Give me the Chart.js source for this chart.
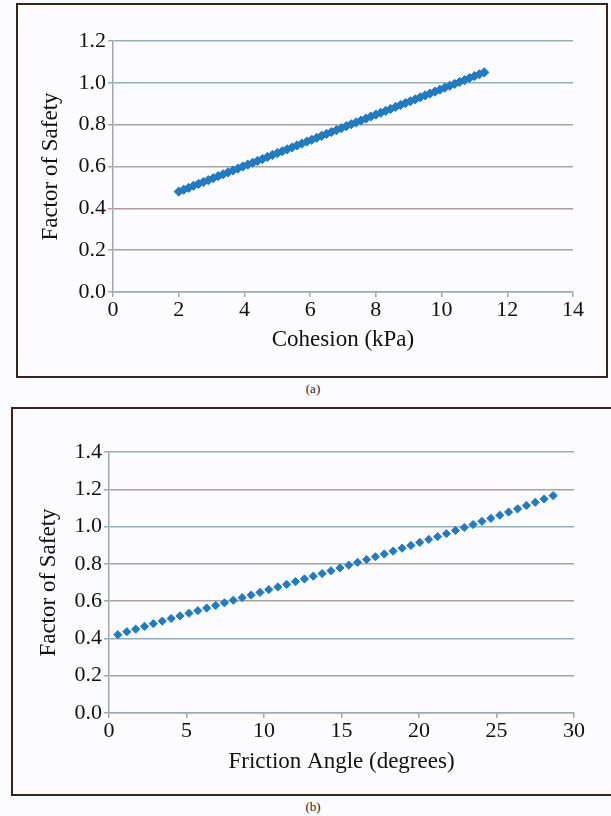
<!DOCTYPE html>
<html>
<head>
<meta charset="utf-8">
<script src="https://cdn.jsdelivr.net/npm/chart.js@4.4.1/dist/chart.umd.min.js"></script>
<style>
  html, body { margin: 0; padding: 0; background: #fbfbfd; width: 611px; height: 816px; overflow: hidden; }
  .box { position: absolute; border: 2px solid #35251d; background: #fcfcfe; box-sizing: border-box; }
  canvas { position: absolute; }
  .cap { position: absolute; font-family: 'Liberation Serif', serif; font-size: 13px; color: #222; width: 40px; text-align: center; }
</style>
</head>
<body>
<div class="box" style="left:16px; top:3px; width:592px; height:375px;"></div>
<canvas id="chartA" width="588" height="371" style="left:18px; top:5px;"></canvas>
<div class="cap" style="left:293px; top:381px;">(a)</div>

<div class="box" style="left:11px; top:407px; width:620px; height:389px;"></div>
<canvas id="chartB" width="598" height="386" style="left:13px; top:409px;"></canvas>
<div class="cap" style="left:293px; top:799px;">(b)</div>

<script>
// ---- Panel (a): Factor of Safety vs Cohesion ----
const cohesionX = [2.00, 2.15, 2.30, 2.45, 2.60, 2.75, 2.90, 3.05, 3.20, 3.35, 3.50, 3.65, 3.80, 3.95, 4.10, 4.25,
  4.40, 4.55, 4.70, 4.85, 5.00, 5.15, 5.30, 5.45, 5.60, 5.75, 5.90, 6.05, 6.20, 6.35, 6.50, 6.65,
  6.80, 6.95, 7.10, 7.25, 7.40, 7.55, 7.70, 7.85, 8.00, 8.15, 8.30, 8.45, 8.60, 8.75, 8.90, 9.05,
  9.20, 9.35, 9.50, 9.65, 9.80, 9.95, 10.10, 10.25, 10.40, 10.55, 10.70, 10.85, 11.00, 11.15, 11.30];
const cohesionFS = [0.480, 0.489, 0.498, 0.508, 0.517, 0.526, 0.535, 0.544, 0.554, 0.563, 0.572, 0.581, 0.590, 0.600, 0.609, 0.618,
  0.627, 0.636, 0.646, 0.655, 0.664, 0.673, 0.682, 0.691, 0.701, 0.710, 0.719, 0.728, 0.737, 0.747, 0.756, 0.765,
  0.774, 0.783, 0.793, 0.802, 0.811, 0.820, 0.829, 0.839, 0.848, 0.857, 0.866, 0.875, 0.885, 0.894, 0.903, 0.912,
  0.921, 0.931, 0.940, 0.949, 0.958, 0.967, 0.977, 0.986, 0.995, 1.004, 1.013, 1.023, 1.032, 1.041, 1.050];
const cohesionTicks = [0, 2, 4, 6, 8, 10, 12, 14];
const fsTicksA = [0, 0.2, 0.4, 0.6, 0.8, 1.0, 1.2];

// ---- Panel (b): Factor of Safety vs Friction Angle ----
const frictionX = [0.57, 1.15, 1.72, 2.29, 2.86, 3.44, 4.01, 4.58, 5.16, 5.73, 6.30, 6.88, 7.45, 8.02, 8.59, 9.17, 9.74,
  10.31, 10.89, 11.46, 12.03, 12.61, 13.18, 13.75, 14.32, 14.90, 15.47, 16.04, 16.62, 17.19, 17.76, 18.33, 18.91,
  19.48, 20.05, 20.63, 21.20, 21.77, 22.35, 22.92, 23.49, 24.06, 24.64, 25.21, 25.78, 26.36, 26.93, 27.50, 28.07, 28.65];
const frictionFS = [0.420, 0.436, 0.450, 0.465, 0.479, 0.493, 0.507, 0.521, 0.535, 0.549, 0.563, 0.577, 0.591, 0.605, 0.619, 0.633, 0.647,
  0.662, 0.676, 0.690, 0.705, 0.719, 0.734, 0.748, 0.763, 0.778, 0.793, 0.808, 0.823, 0.838, 0.853, 0.868, 0.884,
  0.899, 0.915, 0.931, 0.946, 0.962, 0.979, 0.995, 1.011, 1.028, 1.044, 1.061, 1.078, 1.095, 1.113, 1.130, 1.148, 1.166];
const frictionTicks = [0, 5, 10, 15, 20, 25, 30];
const fsTicksB = [0, 0.2, 0.4, 0.6, 0.8, 1.0, 1.2, 1.4];

// gridline tints per value (as seen in the scanned figure)
const gridTintA = { '0.2': '#a3a3a3', '0.4': '#b49c95', '0.6': '#a6a6a6', '0.8': '#a4a4a4', '1': '#8fb0b7', '1.2': '#8fb0b7' };
const gridTintB = { '0.2': '#a3a3a3', '0.4': '#91afb4', '0.6': '#ad9f99', '0.8': '#a4a4a4', '1': '#91afb4', '1.2': '#aca09c', '1.4': '#91afb4' };

const MARK = '#1f7cc2';
const AXIS = '#9eaab0';
const FONT = 'Liberation Serif';

function makeChart(id, xs, ys, xTicks, yTicks, xMax, yMax, xTitle, tint, dims) {
  const pts = xs.map((x, i) => ({ x: x, y: ys[i] }));
  return new Chart(document.getElementById(id), {
    type: 'scatter',
    data: { datasets: [{
      data: pts,
      pointStyle: 'rectRot',
      pointRadius: dims.r,
      pointBackgroundColor: MARK,
      pointBorderColor: MARK,
      pointBorderWidth: 1,
      showLine: false
    }]},
    options: {
      responsive: false,
      animation: false,
      devicePixelRatio: 1,
      layout: { padding: { left: 0, top: dims.top, right: dims.right, bottom: 0 } },
      plugins: { legend: { display: false }, tooltip: { enabled: false } },
      scales: {
        x: {
          type: 'linear', min: 0, max: xMax,
          afterBuildTicks: s => { s.ticks = xTicks.map(v => ({ value: v })); },
          afterFit: s => { s.height = dims.xh; },
          border: { display: true, color: AXIS, width: 1.5 },
          grid: { drawOnChartArea: false, drawTicks: true, tickLength: 5, color: AXIS, lineWidth: 1.5 },
          ticks: { color: '#111', padding: 0, font: { family: FONT, size: 22 }, maxRotation: 0 },
          title: { display: true, text: xTitle, color: '#111', font: { family: FONT, size: 23 },
                   padding: { top: 0, bottom: dims.xtp } }
        },
        y: {
          type: 'linear', min: 0, max: yMax,
          afterBuildTicks: s => { s.ticks = yTicks.map(v => ({ value: v })); },
          afterFit: s => { s.width = dims.yw; },
          border: { display: true, color: AXIS, width: 1.5 },
          grid: {
            drawOnChartArea: true, drawTicks: true, tickLength: 5, lineWidth: 1.5,
            color: c => { const k = String(Math.round(c.tick.value * 10) / 10); return tint[k] || AXIS; }
          },
          ticks: { color: '#111', padding: 2, font: { family: FONT, size: 22 },
                   callback: v => Number(v).toFixed(1) },
          title: { display: true, text: 'Factor of Safety', color: '#111', font: { family: FONT, size: 23 },
                   padding: { top: dims.ytp, bottom: 0 } }
        }
      }
    }
  });
}

makeChart('chartA', cohesionX, cohesionFS, cohesionTicks, fsTicksA, 14, 1.2, 'Cohesion (kPa)', gridTintA,
  { r: 4.6, top: 36, right: 33, xh: 84, yw: 95, xtp: 22, ytp: 19 });
makeChart('chartB', frictionX, frictionFS, frictionTicks, fsTicksB, 30, 1.4, 'Friction Angle (degrees)', gridTintB,
  { r: 4.1, top: 43, right: 37, xh: 82, yw: 96, xtp: 19, ytp: 22 });
</script>
</body>
</html>
